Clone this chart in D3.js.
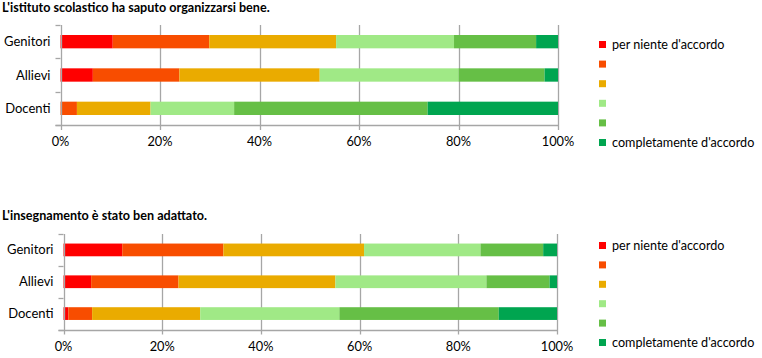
<!DOCTYPE html>
<html><head><meta charset="utf-8">
<script src="https://cdn.jsdelivr.net/npm/d3@7"></script>
<style>
body{margin:0;background:#fff;}
text{font-family:Lato,"Open Sans",sans-serif;fill:#000;}
</style></head>
<body><svg id="c" width="762" height="358"></svg>
<script>
const categories = ["Genitori","Allievi","Docenti"];
const seriesNames = ["per niente d'accordo","","","","","completamente d'accordo"];
const seriesColors = ["#FF0000","#F84D00","#EAAB00","#A0E986","#66BF46","#00A550"];
const tickValues = [0,20,40,60,80,100];
const title1 = "L'istituto scolastico ha saputo organizzarsi bene.";
const title2 = "L'insegnamento è stato ben adattato.";
// values per category (percent), one array per series
const chart1 = {
  Genitori:[10.5,19.4,25.5,23.7,16.5,4.4],
  Allievi:[6.5,17.4,28.2,27.9,17.3,2.7],
  Docenti:[0,3.3,14.8,16.8,38.9,26.2]
};
const chart2 = {
  Genitori:[11.9,20.5,28.5,23.6,12.7,2.8],
  Allievi:[5.6,17.7,31.8,30.6,12.8,1.5],
  Docenti:[1.0,4.8,21.9,28.2,32.3,11.8]
};

const svg = d3.select("#c");

function drawChart(data, title, o){
  const g = svg.append("g");
  g.append("text").attr("x",o.titleX).attr("y",o.titleY)
    .style("font-weight","bold").style("font-size","12.6px").text(title);
  const x = d3.scaleLinear().domain([0,100]).range([o.x0,o.x1]);
  const y = d3.scaleBand().domain(categories).range([o.y0,o.y1]).paddingInner(0.6).paddingOuter(0.3);
  const grid = "#a6a6a6";
  // gridlines
  g.append("g").selectAll("line").data(tickValues.slice(1)).join("line")
    .attr("x1",d=>Math.round(x(d))+0.5).attr("x2",d=>Math.round(x(d))+0.5)
    .attr("y1",o.y0).attr("y2",o.y1+5).attr("stroke",grid).attr("stroke-width",1.3);
  // stacked bars
  const stack = d3.stack().keys(d3.range(6)).value((d,k)=>data[d][k]);
  const layers = stack(categories);
  g.append("g").selectAll("g").data(layers).join("g")
    .attr("fill",(d,i)=>seriesColors[i])
    .selectAll("rect").data(d=>d.map((v,j)=>({v,c:categories[j]}))).join("rect")
    .attr("x",d=>x(d.v[0])).attr("width",d=>Math.max(0,x(d.v[1])-x(d.v[0])))
    .attr("y",d=>y(d.c)).attr("height",y.bandwidth());
  // y axis line and ticks
  const ax = g.append("g").attr("stroke",grid).attr("stroke-width",1.3);
  ax.append("line").attr("x1",Math.round(x(0))+0.5).attr("x2",Math.round(x(0))+0.5)
    .attr("y1",o.y0).attr("y2",o.y1+5);
  ax.append("line").attr("x1",x(0)-5).attr("x2",x(100)).attr("y1",Math.round(o.y1)+0.5).attr("y2",Math.round(o.y1)+0.5);
  const step = (o.y1-o.y0)/categories.length;
  ax.selectAll("line.t").data(d3.range(categories.length+1)).join("line").attr("class","t")
    .attr("x1",x(0)-5).attr("x2",x(0)).attr("y1",d=>Math.round(o.y0+d*step)+0.5).attr("y2",d=>Math.round(o.y0+d*step)+0.5);
  // category labels
  g.append("g").selectAll("text").data(categories).join("text")
    .attr("x",x(0)-10).attr("y",d=>y(d)+y.bandwidth()/2).attr("dy","0.35em")
    .attr("text-anchor","end").style("font-size","13px").text(d=>d);
  // x tick labels
  g.append("g").selectAll("text").data(tickValues).join("text")
    .attr("x",d=>x(d)).attr("y",o.y1+17).attr("dy","0.35em")
    .attr("text-anchor","middle").style("font-size","12.8px").text(d=>d+"%");
  // legend
  const lg = g.append("g");
  seriesNames.forEach((n,i)=>{
    const cy = o.legY + i*o.legStep;
    lg.append("rect").attr("x",599).attr("y",cy-3.5).attr("width",7).attr("height",7).attr("fill",seriesColors[i]);
    lg.append("text").attr("x",612).attr("y",cy).attr("dy","0.35em").style("font-size","12.6px").text(n);
  });
}

drawChart(chart1, title1, {titleX:2,titleY:12,x0:60.5,x1:558,y0:25,y1:125,legY:44.5,legStep:19.6});
drawChart(chart2, title2, {titleX:2,titleY:220,x0:63.5,x1:557,y0:234,y1:329.5,legY:245.5,legStep:19.4});
</script></body></html>
